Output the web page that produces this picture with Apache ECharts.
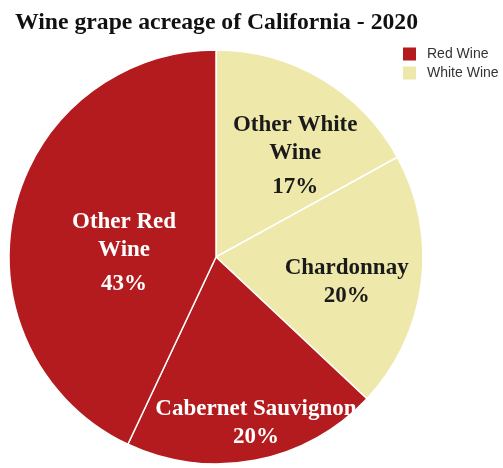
<!DOCTYPE html>
<html>
<head>
<meta charset="utf-8">
<script src="https://cdn.jsdelivr.net/npm/echarts@6/dist/echarts.min.js"></script>
<style>html,body{margin:0;padding:0;background:#fff}#c{width:503px;height:468px}</style>
</head>
<body>
<div id="c"></div>
<script>
const categories = ['Other White Wine', 'Chardonnay', 'Cabernet Sauvignon', 'Other Red Wine'];
const labelNames = ['Other White\nWine', 'Chardonnay', 'Cabernet Sauvignon', 'Other Red\nWine'];
const values = [17, 20, 20, 43];
const groups = ['White Wine', 'White Wine', 'Red Wine', 'Red Wine'];
const legendNames = ['Red Wine', 'White Wine'];

const groupColors = { 'Red Wine': '#B31B1E', 'White Wine': '#EEE8AA' };
const groupText = { 'Red Wine': '#ffffff', 'White Wine': '#1a1a1a' };
const labelOffsets = [[25, -6], [25, 12], [20, 61], [12, 22]];

const chart = echarts.init(document.getElementById('c'));
const data = categories.map((name, i) => ({
  name: name,
  value: values[i],
  itemStyle: { color: groupColors[groups[i]] },
  label: { color: groupText[groups[i]], offset: labelOffsets[i] }
}));

const textBase = { fontFamily: 'Liberation Serif', fontWeight: 'bold', fontSize: 23 };

chart.setOption({
  animation: false,
  title: {
    text: 'Wine grape acreage of California - 2020',
    left: 10, top: 6,
    textStyle: { fontFamily: 'Liberation Serif', fontWeight: 'bold', fontSize: 23.7, color: '#111' }
  },
  legend: {
    orient: 'vertical',
    left: 403, top: 47,
    padding: 0,
    itemWidth: 13, itemHeight: 13, itemGap: 5,
    icon: 'rect',
    data: legendNames,
    selectedMode: false,
    textStyle: { fontFamily: 'Liberation Sans', fontSize: 14, color: '#333', padding: [0, 0, 0, 6] }
  },
  series: [
    {
      type: 'pie',
      name: 'Wine',
      center: [216, 257],
      radius: [0, 207],
      startAngle: 90,
      clockwise: true,
      itemStyle: { borderColor: '#ffffff', borderWidth: 1.5 },
      label: {
        show: true,
        position: 'inside',
        fontFamily: 'Liberation Serif',
        fontWeight: 'bold',
        fontSize: 23,
        lineHeight: 28,
        rich: {
          n: Object.assign({ lineHeight: 28 }, textBase),
          p: Object.assign({ lineHeight: 28 }, textBase),
          q: Object.assign({ lineHeight: 40 }, textBase)
        },
        formatter: (p) => {
          const lines = labelNames[p.dataIndex].split('\n').map(s => '{n|' + s + '}');
          const tag = lines.length > 1 ? 'q' : 'p';
          return lines.join('\n') + '\n{' + tag + '|' + values[p.dataIndex] + '%}';
        }
      },
      labelLine: { show: false },
      emphasis: { disabled: true },
      data: data
    },
    { type: 'pie', name: 'Red Wine', data: [], itemStyle: { color: groupColors['Red Wine'] }, center: [-100, -100], radius: 0 },
    { type: 'pie', name: 'White Wine', data: [], itemStyle: { color: groupColors['White Wine'] }, center: [-100, -100], radius: 0 }
  ]
});
</script>
</body>
</html>
